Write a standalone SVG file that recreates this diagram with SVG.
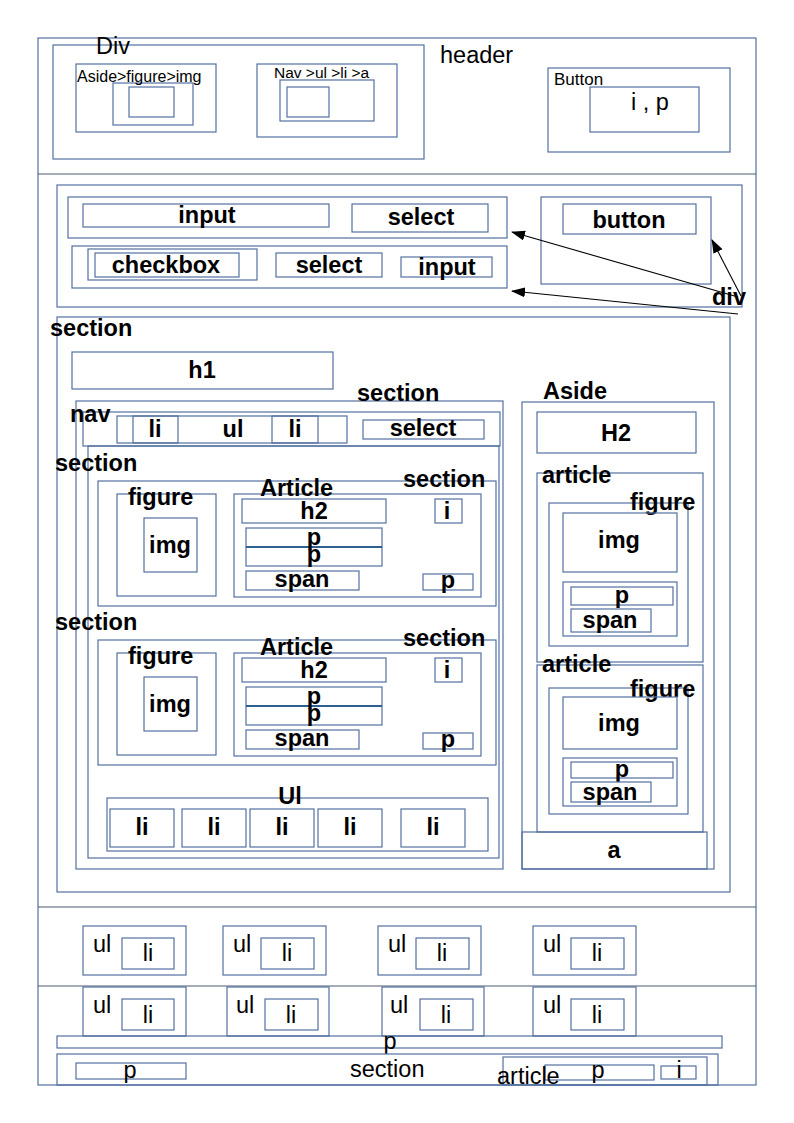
<svg xmlns="http://www.w3.org/2000/svg" width="794" height="1123" viewBox="0 0 794 1123">
  <defs>
    <marker id="head" viewBox="0 0 14 10" refX="13" refY="5" markerWidth="14" markerHeight="10" markerUnits="userSpaceOnUse" orient="auto">
      <path d="M0,0 L14,5 L0,10 Z" fill="#000"/>
    </marker>
  </defs>
  <style>
    rect { fill: none; stroke: #5371a0; stroke-width: 1.2; }
    .sep { stroke: #4a5a70; stroke-width: 1.2; }
    .div { stroke: #2f5e90; stroke-width: 2; }
    text { font-family: "Liberation Sans", Arial, sans-serif; fill: #000; }
    .b { font-size: 23.5px; font-weight: bold; }
    .n { font-size: 23.5px; }
    .c { text-anchor: middle; }
    .s { font-size: 16px; }
    .conn line { stroke: #000; stroke-width: 1.1; marker-end: url(#head); }
  </style>
  <rect width="794" height="1123" style="fill:#fff;stroke:none"/>

  <!-- page frame and bands -->
  <g id="page">
    <rect x="38" y="38" width="718" height="1047"/>
    <line class="sep" x1="38" y1="174" x2="756" y2="174"/>
    <line class="sep" x1="38" y1="907" x2="756" y2="907"/>
    <line class="sep" x1="38" y1="986" x2="756" y2="986"/>
  </g>

  <!-- header band -->
  <g id="header">
    <text class="n" x="440" y="63">header</text>
  </g>
  <g id="header-div">
    <rect x="53" y="45" width="371" height="114"/>
    <text class="n" x="96" y="54">Div</text>
  </g>
  <g id="header-aside">
    <rect x="76" y="64" width="140" height="68"/>
    <rect x="113" y="83" width="80" height="42"/>
    <rect x="129" y="87" width="45" height="30"/>
    <text class="s" x="77" y="82">Aside&gt;figure&gt;img</text>
  </g>
  <g id="header-nav">
    <rect x="257" y="64" width="140" height="73"/>
    <rect x="280" y="80" width="94" height="41"/>
    <rect x="287" y="87" width="42" height="30"/>
    <text x="274" y="78" style="font-size:15.5px">Nav &gt;ul &gt;li &gt;a</text>
  </g>
  <g id="header-button">
    <rect x="548" y="68" width="182" height="84"/>
    <rect x="590" y="87" width="109" height="45"/>
    <text x="554" y="85" style="font-size:17px">Button</text>
    <text class="n c" x="650" y="110">i , p</text>
  </g>

  <!-- form block -->
  <g id="form">
    <rect x="57" y="185" width="685" height="122"/>
  </g>
  <g id="row-1">
    <rect x="68" y="197" width="439" height="41"/>
    <rect x="83" y="204" width="246" height="23"/>
    <text class="b c" x="207" y="223">input</text>
    <rect x="352" y="204" width="136" height="28"/>
    <text class="b c" x="421" y="225">select</text>
  </g>
  <g id="row-2">
    <rect x="72" y="246" width="435" height="42"/>
    <rect x="88" y="249" width="169" height="31"/>
    <rect x="95" y="253" width="144" height="24"/>
    <text class="b c" x="166" y="273">checkbox</text>
    <rect x="276" y="253" width="106" height="24"/>
    <text class="b c" x="329" y="273">select</text>
    <rect x="401" y="257" width="91" height="20"/>
    <text class="b c" x="447" y="275">input</text>
  </g>
  <g id="form-button">
    <rect x="541" y="197" width="170" height="87"/>
    <rect x="563" y="204" width="133" height="30"/>
    <text class="b c" x="629" y="228">button</text>
  </g>
  <g id="div-label">
    <text class="b" x="712" y="305">div</text>
  </g>

  <!-- main section -->
  <g id="main-section">
    <rect x="57" y="317" width="673" height="575"/>
    <text class="b" x="50" y="336">section</text>
  </g>
  <g id="h1">
    <rect x="72" y="352" width="261" height="37"/>
    <text class="b c" x="202" y="378">h1</text>
  </g>
  <g id="inner-section">
    <rect x="76" y="401" width="427" height="468"/>
    <rect x="88" y="446" width="411" height="412"/>
    <text class="b" x="357" y="401">section</text>
  </g>
  <g id="nav">
    <rect x="83" y="412" width="417" height="34"/>
    <text class="b" x="70" y="422">nav</text>
    <rect x="117" y="416" width="230" height="27"/>
    <rect x="133" y="416" width="45" height="27"/>
    <rect x="272" y="416" width="46" height="27"/>
    <text class="b c" x="155" y="437">li</text>
    <text class="b c" x="233" y="437">ul</text>
    <text class="b c" x="295" y="437">li</text>
    <rect x="363" y="420" width="121" height="19"/>
    <text class="b c" x="423" y="436">select</text>
  </g>

  <!-- content section 1 -->
  <g id="section-1">
    <text class="b" x="55" y="471">section</text>
    <rect x="98" y="481" width="398" height="125"/>
    <text class="b" x="403" y="487">section</text>
    <rect x="117" y="494" width="99" height="102"/>
    <text class="b" x="128" y="505">figure</text>
    <rect x="144" y="518" width="53" height="54"/>
    <text class="b c" x="170" y="553">img</text>
    <rect x="234" y="494" width="247" height="103"/>
    <text class="b" x="260" y="496">Article</text>
    <rect x="242" y="499" width="144" height="24"/>
    <text class="b c" x="314" y="519">h2</text>
    <rect x="435" y="499" width="27" height="24"/>
    <text class="b c" x="447" y="519">i</text>
    <rect x="246" y="528" width="136" height="38"/>
    <line class="div" x1="246" y1="547" x2="382" y2="547"/>
    <text class="b c" x="314" y="545">p</text>
    <text class="b c" x="314" y="562">p</text>
    <rect x="246" y="571" width="113" height="19"/>
    <text class="b c" x="302" y="587">span</text>
    <rect x="423" y="574" width="50" height="16"/>
    <text class="b c" x="448" y="588">p</text>
  </g>

  <!-- content section 2 -->
  <g id="section-2">
    <text class="b" x="55" y="630">section</text>
    <rect x="98" y="640" width="398" height="125"/>
    <text class="b" x="403" y="646">section</text>
    <rect x="117" y="653" width="99" height="102"/>
    <text class="b" x="128" y="664">figure</text>
    <rect x="144" y="677" width="53" height="54"/>
    <text class="b c" x="170" y="712">img</text>
    <rect x="234" y="653" width="247" height="103"/>
    <text class="b" x="260" y="655">Article</text>
    <rect x="242" y="658" width="144" height="24"/>
    <text class="b c" x="314" y="678">h2</text>
    <rect x="435" y="658" width="27" height="24"/>
    <text class="b c" x="447" y="678">i</text>
    <rect x="246" y="687" width="136" height="38"/>
    <line class="div" x1="246" y1="706" x2="382" y2="706"/>
    <text class="b c" x="314" y="704">p</text>
    <text class="b c" x="314" y="721">p</text>
    <rect x="246" y="730" width="113" height="19"/>
    <text class="b c" x="302" y="746">span</text>
    <rect x="423" y="733" width="50" height="16"/>
    <text class="b c" x="448" y="747">p</text>
  </g>

  <!-- list -->
  <g id="list">
    <rect x="107" y="798" width="381" height="53"/>
    <text class="b c" x="290" y="804">Ul</text>
    <rect x="110" y="809" width="64" height="38"/>
    <rect x="182" y="809" width="64" height="38"/>
    <rect x="250" y="809" width="64" height="38"/>
    <rect x="318" y="809" width="64" height="38"/>
    <rect x="401" y="809" width="64" height="38"/>
    <text class="b c" x="142" y="835">li</text>
    <text class="b c" x="214" y="835">li</text>
    <text class="b c" x="282" y="835">li</text>
    <text class="b c" x="350" y="835">li</text>
    <text class="b c" x="433" y="835">li</text>
  </g>

  <!-- aside -->
  <g id="aside">
    <rect x="522" y="402" width="192" height="467"/>
    <text class="b" x="543" y="399">Aside</text>
    <rect x="537" y="412" width="159" height="41"/>
    <text class="b c" x="616" y="441">H2</text>
  </g>
  <g id="aside-article-1">
    <rect x="537" y="473" width="166" height="189"/>
    <text class="b" x="542" y="483">article</text>
    <rect x="549" y="503" width="139" height="143"/>
    <text class="b" x="630" y="510">figure</text>
    <rect x="563" y="513" width="114" height="59"/>
    <text class="b c" x="619" y="548">img</text>
    <rect x="563" y="582" width="114" height="54"/>
    <rect x="571" y="587" width="102" height="18"/>
    <text class="b c" x="622" y="603">p</text>
    <rect x="571" y="609" width="80" height="23"/>
    <text class="b c" x="610" y="628">span</text>
  </g>
  <g id="aside-article-2">
    <rect x="537" y="665" width="166" height="167"/>
    <text class="b" x="542" y="672">article</text>
    <rect x="549" y="688" width="139" height="126"/>
    <text class="b" x="630" y="697">figure</text>
    <rect x="563" y="697" width="114" height="52"/>
    <text class="b c" x="619" y="731">img</text>
    <rect x="563" y="758" width="114" height="48"/>
    <rect x="571" y="762" width="102" height="16"/>
    <text class="b c" x="622" y="777">p</text>
    <rect x="571" y="782" width="80" height="20"/>
    <text class="b c" x="610" y="800">span</text>
  </g>
  <g id="aside-a">
    <rect x="522" y="832" width="185" height="37"/>
    <text class="b c" x="614" y="858">a</text>
  </g>

  <!-- footer lists, first row -->
  <g id="footer-ul-1">
    <rect x="83" y="926" width="103" height="49"/>
    <rect x="122" y="938" width="52" height="31"/>
    <text class="n" x="93" y="952">ul</text>
    <text class="n c" x="148" y="961">li</text>
  </g>
  <g id="footer-ul-2">
    <rect x="223" y="926" width="103" height="49"/>
    <rect x="261" y="938" width="53" height="31"/>
    <text class="n" x="233" y="952">ul</text>
    <text class="n c" x="287" y="961">li</text>
  </g>
  <g id="footer-ul-3">
    <rect x="378" y="926" width="103" height="49"/>
    <rect x="416" y="938" width="53" height="31"/>
    <text class="n" x="388" y="952">ul</text>
    <text class="n c" x="442" y="961">li</text>
  </g>
  <g id="footer-ul-4">
    <rect x="533" y="926" width="103" height="49"/>
    <rect x="571" y="938" width="53" height="31"/>
    <text class="n" x="543" y="952">ul</text>
    <text class="n c" x="597" y="961">li</text>
  </g>

  <!-- footer lists, second row -->
  <g id="footer-ul-5">
    <rect x="83" y="987" width="103" height="49"/>
    <rect x="122" y="999" width="52" height="31"/>
    <text class="n" x="93" y="1013">ul</text>
    <text class="n c" x="148" y="1023">li</text>
  </g>
  <g id="footer-ul-6">
    <rect x="227" y="987" width="102" height="49"/>
    <rect x="265" y="999" width="53" height="31"/>
    <text class="n" x="236" y="1013">ul</text>
    <text class="n c" x="291" y="1023">li</text>
  </g>
  <g id="footer-ul-7">
    <rect x="382" y="987" width="102" height="49"/>
    <rect x="420" y="999" width="53" height="31"/>
    <text class="n" x="390" y="1013">ul</text>
    <text class="n c" x="446" y="1023">li</text>
  </g>
  <g id="footer-ul-8">
    <rect x="533" y="987" width="103" height="49"/>
    <rect x="571" y="999" width="53" height="31"/>
    <text class="n" x="543" y="1013">ul</text>
    <text class="n c" x="597" y="1023">li</text>
  </g>

  <!-- footer paragraph and section -->
  <g id="footer-p">
    <rect x="57" y="1036" width="665" height="12"/>
    <text class="n c" x="390" y="1049">p</text>
  </g>
  <g id="footer-section">
    <rect x="57" y="1054" width="661" height="31"/>
    <text class="n" x="350" y="1077">section</text>
    <rect x="76" y="1063" width="110" height="16"/>
    <text class="n c" x="130" y="1078">p</text>
  </g>
  <g id="footer-article">
    <rect x="503" y="1057" width="204" height="28"/>
    <rect x="545" y="1065" width="109" height="15"/>
    <rect x="661" y="1066" width="35" height="13"/>
    <text class="n" x="497" y="1084">article</text>
    <text class="n c" x="598" y="1078">p</text>
    <text class="n c" x="679" y="1078">i</text>
  </g>

  <!-- connectors from the div label -->
  <g id="connectors" class="conn">
    <line x1="738" y1="297" x2="512" y2="232"/>
    <line x1="738" y1="314" x2="512" y2="291"/>
    <line x1="741" y1="296" x2="712" y2="240"/>
  </g>
</svg>
